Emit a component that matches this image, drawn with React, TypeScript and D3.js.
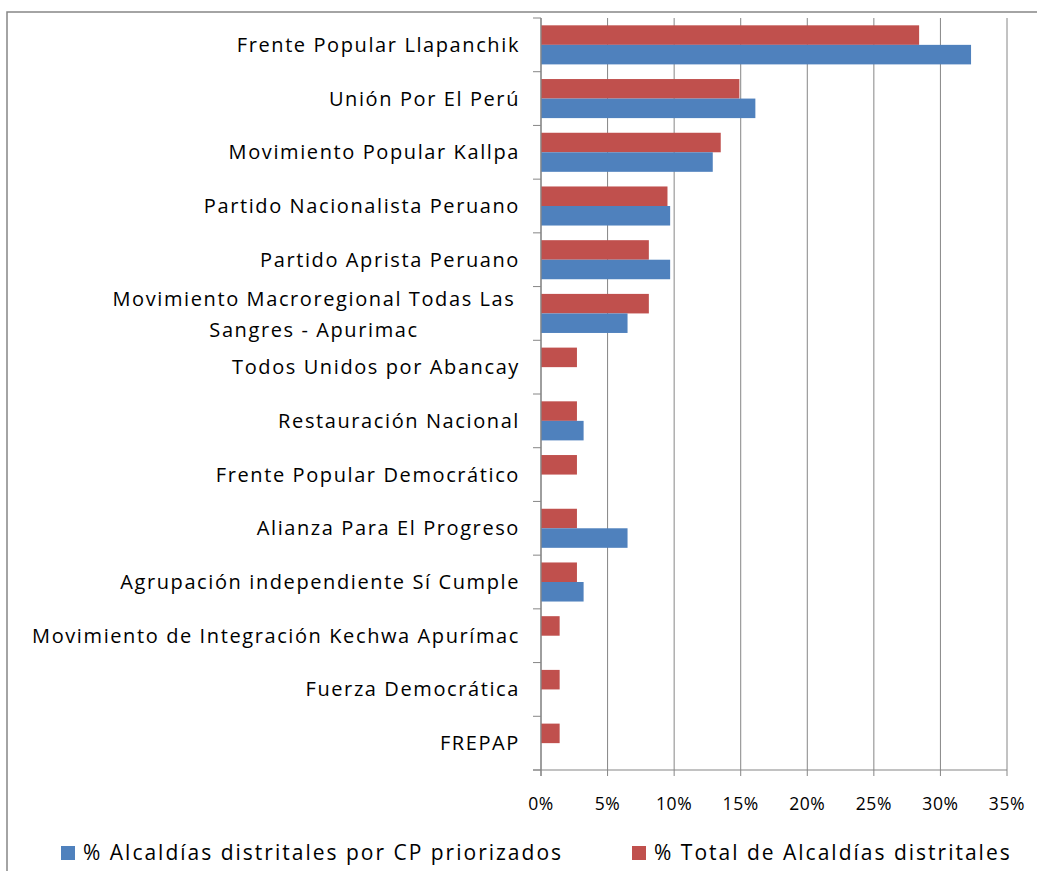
import * as d3 from "d3";

const categories = [
  "Frente Popular Llapanchik",
  "Unión Por El Perú",
  "Movimiento Popular Kallpa",
  "Partido Nacionalista Peruano",
  "Partido Aprista Peruano",
  "Movimiento Macroregional Todas Las\nSangres - Apurimac",
  "Todos Unidos por Abancay",
  "Restauración Nacional",
  "Frente Popular Democrático",
  "Alianza Para El Progreso",
  "Agrupación independiente Sí Cumple",
  "Movimiento de Integración Kechwa Apurímac",
  "Fuerza Democrática",
  "FREPAP",
];

// % Total de Alcaldías distritales
const totalValues = [28.4, 14.9, 13.5, 9.5, 8.1, 8.1, 2.7, 2.7, 2.7, 2.7, 2.7, 1.4, 1.4, 1.4];
// % Alcaldías distritales por CP priorizados
const cpValues = [32.3, 16.1, 12.9, 9.7, 9.7, 6.5, 0, 3.2, 0, 6.5, 3.2, 0, 0, 0];

const xTicks = [0, 5, 10, 15, 20, 25, 30, 35];

const series = [
  { key: "total", name: "% Total de Alcaldías distritales", color: "#C0504D", values: totalValues },
  { key: "cp", name: "% Alcaldías distritales por CP priorizados", color: "#4F81BD", values: cpValues },
];

const WIDTH = 1037;
const HEIGHT = 871;
const FONT = "'Open Sans', sans-serif";
const AXIS = "#868686";

export default function App() {
  const x = d3.scaleLinear().domain([0, 35]).range([541, 1007]);
  const y = d3.scaleBand().domain(categories).range([18, 770]);
  const sub = d3
    .scaleBand()
    .domain(series.map((s) => s.key))
    .range([0, y.step()])
    .paddingOuter(0.375);

  const bars = series.flatMap((s) =>
    s.values.map((v, i) => (
      <rect
        key={s.key + i}
        x={x(0)}
        y={y(categories[i])! + sub(s.key)!}
        width={x(v) - x(0)}
        height={sub.bandwidth()}
        fill={s.color}
      />
    ))
  );

  const bandEdges = d3.range(categories.length + 1).map((i) => 18 + i * y.step());

  return (
    <svg
      width={WIDTH}
      height={HEIGHT}
      style={{ position: "absolute", left: 0, top: 0, background: "#fff" }}
      fontFamily={FONT}
    >
      <rect x={7} y={12} width={1040} height={870} fill="none" stroke={AXIS} strokeWidth={1.5} />

      {xTicks.map((t) => (
        <line key={"g" + t} x1={x(t)} x2={x(t)} y1={18} y2={776} stroke={AXIS} strokeWidth={1} />
      ))}

      {bars}

      <line x1={541} x2={541} y1={18} y2={776} stroke={AXIS} strokeWidth={1.2} />
      <line x1={533} x2={1007} y1={770} y2={770} stroke={AXIS} strokeWidth={1.2} />
      {bandEdges.map((e, i) => (
        <line key={"t" + i} x1={533} x2={541} y1={e} y2={e} stroke={AXIS} strokeWidth={1} />
      ))}

      {xTicks.map((t) => (
        <text
          key={"l" + t}
          x={x(t)}
          y={810}
          textAnchor="middle"
          fontSize={17.5}
          letterSpacing={0.6}
          fill="#000"
        >
          {t + "%"}
        </text>
      ))}

      {categories.map((c) => {
        const lines = c.split("\n");
        const cy = y(c)! + y.step() / 2;
        if (lines.length === 1) {
          return (
            <text key={c} x={520} y={cy + 7} textAnchor="end" fontSize={20} letterSpacing={1.6} fill="#000">
              {c}
            </text>
          );
        }
        return (
          <text key={c} x={314} y={cy - 7.5} textAnchor="middle" fontSize={20} letterSpacing={1.6} fill="#000">
            {lines.map((l, j) => (
              <tspan key={j} x={314} dy={j === 0 ? 0 : 31}>
                {l}
              </tspan>
            ))}
          </text>
        );
      })}

      {[series[1], series[0]].map((s, i) => {
        const lx = i === 0 ? 61 : 632;
        return (
          <g key={s.key}>
            <rect x={lx} y={846} width={14} height={14} fill={s.color} />
            <text x={lx + 22} y={860} fontSize={21} letterSpacing={2} fill="#000">
              {s.name}
            </text>
          </g>
        );
      })}
    </svg>
  );
}
